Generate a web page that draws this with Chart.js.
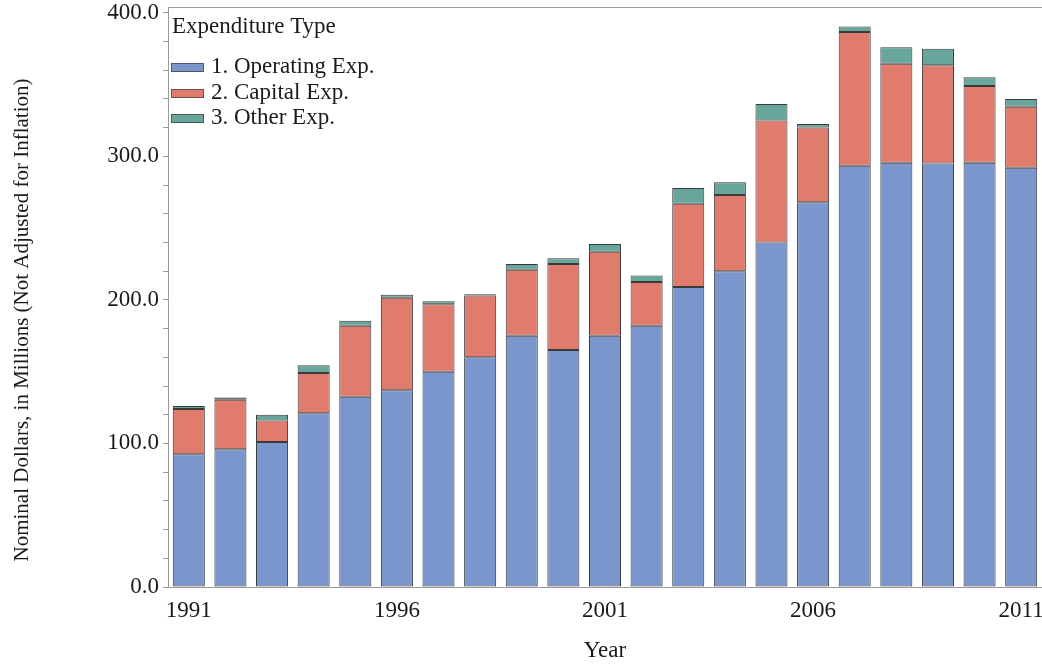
<!DOCTYPE html>
<html>
<head>
<meta charset="utf-8">
<script src="https://cdn.jsdelivr.net/npm/chart.js@4/dist/chart.umd.min.js"></script>
<style>
  html, body { margin: 0; padding: 0; background: #fff; }
  #wrap { width: 1042px; height: 666px; position: relative; }
</style>
</head>
<body>
<div id="wrap"><canvas id="chart"></canvas></div>
<script>
const years = ['1991', '1992', '1993', '1994', '1995', '1996', '1997', '1998', '1999', '2000',
  '2001', '2002', '2003', '2004', '2005', '2006', '2007', '2008', '2009', '2010', '2011'];
const shownYears = ['1991', '1996', '2001', '2006', '2011'];

// segment heights, millions of dollars
const operatingExp = [92.5, 96, 101, 121, 132.5, 137, 150, 160, 175, 165, 175, 182, 209, 220, 240, 268, 293.5, 295.5, 295, 295.5, 292];
const capitalExp = [31.5, 34.5, 15, 28, 49.5, 64.5, 47, 43, 46, 60, 58.5, 30.5, 58, 53, 85, 52, 93, 69, 68.5, 53.5, 42.5];
const otherExp = [2, 1.5, 4, 5.5, 3.5, 2, 2, 1, 4, 4, 5.5, 4.5, 11, 9, 11.5, 2.5, 4, 11.5, 11.5, 6, 5.5];

const yTicks = [];
for (let v = 0; v <= 400; v += 20) yTicks.push(v);

const serif = '"Liberation Serif", "Times New Roman", serif';
const axisGray = '#9a9a9a';
const textColor = '#1a1a1a';

// legend inside the plot + y title + top frame line
const extras = {
  id: 'extras',
  afterDraw(chart) {
    const ctx = chart.ctx;
    const area = chart.chartArea;
    ctx.save();

    ctx.strokeStyle = axisGray;
    ctx.lineWidth = 1;
    ctx.beginPath();
    ctx.moveTo(area.left, area.top + 0.5);
    ctx.lineTo(area.right, area.top + 0.5);
    ctx.stroke();

    ctx.fillStyle = textColor;
    ctx.font = '23px ' + serif;
    ctx.textAlign = 'left';
    ctx.textBaseline = 'alphabetic';
    ctx.fillText('Expenditure Type', 172, 33);

    chart.data.datasets.forEach((ds, i) => {
      const y = Math.round(63 + i * 25.7);
      ctx.fillStyle = ds.backgroundColor;
      ctx.fillRect(171, y, 33, 9);
      ctx.strokeStyle = 'rgba(60,60,60,0.7)';
      ctx.strokeRect(171.5, y + 0.5, 32, 8);
      ctx.fillStyle = textColor;
      ctx.fillText(ds.label, 211, y + 10);
    });

    ctx.translate(22, 320);
    ctx.rotate(-Math.PI / 2);
    ctx.textAlign = 'center';
    ctx.textBaseline = 'middle';
    ctx.font = '21px ' + serif;
    ctx.fillText('Nominal Dollars, in Millions (Not Adjusted for Inflation)', 0, 0);
    ctx.restore();
  }
};

const barStyle = {
  borderColor: '#3a3a3a',
  borderWidth: 1,
  borderSkipped: false,
  barPercentage: 0.77,
  categoryPercentage: 1.0
};

new Chart(document.getElementById('chart'), {
  type: 'bar',
  data: {
    labels: years,
    datasets: [
      { label: '1. Operating Exp.', data: operatingExp, backgroundColor: '#7b96cc', ...barStyle },
      { label: '2. Capital Exp.', data: capitalExp, backgroundColor: '#df7c6d', ...barStyle },
      { label: '3. Other Exp.', data: otherExp, backgroundColor: '#68a69c', ...barStyle }
    ]
  },
  options: {
    responsive: true,
    maintainAspectRatio: false,
    animation: false,
    layout: { padding: { top: 7, right: 0, left: 0, bottom: 0 } },
    plugins: {
      legend: { display: false },
      tooltip: { enabled: false }
    },
    scales: {
      x: {
        stacked: true,
        grid: { display: false, drawTicks: false },
        border: { color: axisGray, width: 1 },
        ticks: {
          autoSkip: false,
          maxRotation: 0,
          padding: 10,
          color: textColor,
          font: { family: serif, size: 23 },
          callback: function (val, i) {
            const y = years[i];
            return shownYears.includes(y) ? y : '';
          }
        },
        title: {
          display: true,
          text: 'Year',
          color: textColor,
          font: { family: serif, size: 23 },
          padding: { top: 0, bottom: 1 }
        },
        afterFit: s => {
          s.height = 79;
          s.paddingLeft = 0;
          s.paddingRight = 0;
        }
      },
      y: {
        stacked: true,
        min: 0,
        max: 404,
        grid: { drawOnChartArea: false, tickLength: 5, color: axisGray },
        border: { color: axisGray, width: 1 },
        ticks: {
          autoSkip: false,
          padding: 4,
          color: textColor,
          font: { family: serif, size: 23 },
          callback: v => (v % 100 === 0 ? v.toFixed(1) : '')
        },
        afterBuildTicks: s => { s.ticks = yTicks.map(v => ({ value: v })); },
        afterFit: s => {
          s.width = 168;
          s.paddingTop = 0;
          s.paddingBottom = 0;
        }
      }
    }
  },
  plugins: [extras]
});
</script>
</body>
</html>
